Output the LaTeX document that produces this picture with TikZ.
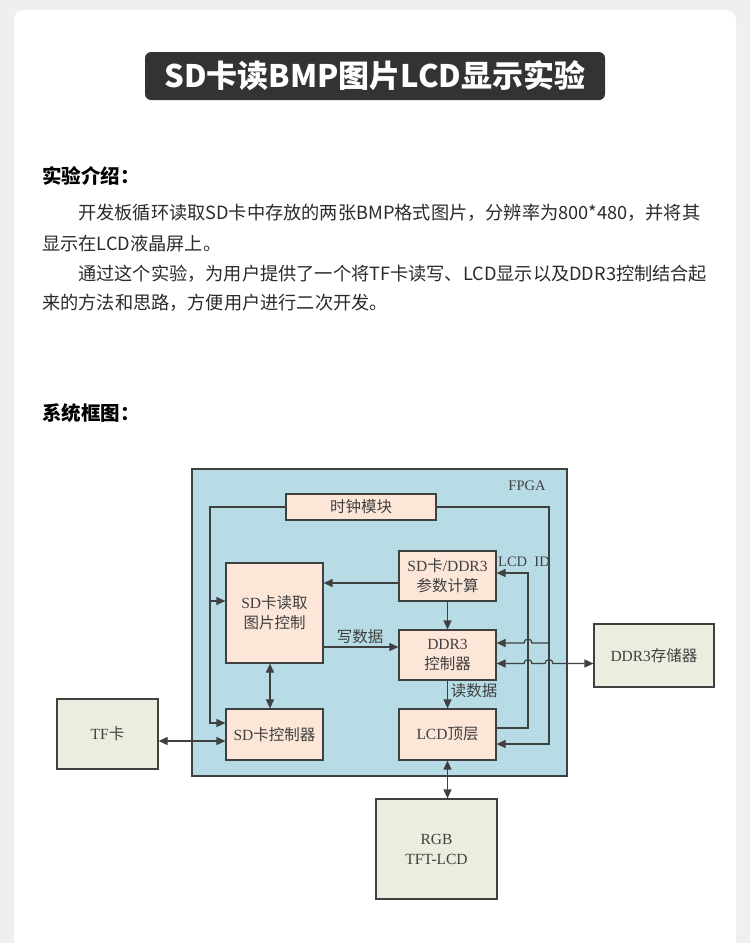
\documentclass[tikz,border=0pt]{standalone}
\usepackage{fontspec}
\setmainfont{Noto Sans CJK SC}
\newfontfamily\lat{Liberation Serif}
\usetikzlibrary{arrows.meta}
\definecolor{bg}{HTML}{EFEFEF}
\definecolor{titlebg}{HTML}{333333}
\definecolor{txt}{HTML}{2B2B2B}
\definecolor{fpgab}{HTML}{B7DCE6}
\definecolor{peach}{HTML}{FCE6D8}
\definecolor{pale}{HTML}{EAEEDF}
\definecolor{edge}{HTML}{404040}
\tikzset{
  blk/.style={draw=edge, line width=1.2pt, fill=peach, inner sep=0pt, align=center, font=\fontsize{15.5}{20}\selectfont, text=edge},
  ext/.style={draw=edge, line width=1.2pt, fill=pale, inner sep=0pt, align=center, font=\fontsize{15.5}{20}\selectfont, text=edge},
  arr/.style={draw=edge, line width=1.2pt, -{Triangle[length=9pt,width=8pt]}},
  darr/.style={draw=edge, line width=1.2pt, {Triangle[length=9pt,width=8pt]}-{Triangle[length=9pt,width=8pt]}},
  lbl/.style={inner sep=0pt, font=\fontsize{15.5}{20}\selectfont, text=edge},
  para/.style={anchor=west, inner sep=0pt, font=\fontsize{18.2}{22}\selectfont, text=txt},
  head/.style={anchor=west, inner sep=0pt, font=\fontsize{19.5}{24}\selectfont\bfseries, text=black}
}
\begin{document}
\begin{tikzpicture}[x=1pt,y=-1pt]
\useasboundingbox (0,0) rectangle (750,943);
\fill[bg] (0,0) rectangle (750,943);
\fill[white, rounded corners=10pt] (14,10) rectangle (736,960);
% title
\node[fill=titlebg, rounded corners=6pt, minimum width=460pt, minimum height=48pt, inner sep=0pt,
      text=white, font=\fontsize{31}{36}\selectfont\bfseries] (title) at (375,76) {SD卡读BMP图片LCD显示实验};
% intro text
\node[head] (h1) at (42,176) {实验介绍：};
\node[para] (p1) at (78,213) {开发板循环读取SD卡中存放的两张BMP格式图片，分辨率为800*480，并将其};
\node[para] (p2) at (42,244) {显示在LCD液晶屏上。};
\node[para] (p3) at (78,274) {通过这个实验，为用户提供了一个将TF卡读写、LCD显示以及DDR3控制结合起};
\node[para] (p4) at (42,303) {来的方法和思路，方便用户进行二次开发。};
\node[head] (h2) at (42,413) {系统框图：};
% diagram
\node[draw=edge, line width=1.2pt, fill=fpgab, minimum width=375pt, minimum height=307pt, inner sep=0pt] (fpga) at (379.5,622.5) {};
\node[lbl, font=\lat\fontsize{14.5}{18}\selectfont] (fpgal) at (527,486) {FPGA};
\node[blk, minimum width=150pt, minimum height=26pt] (clk) at (361,507) {时钟模块};
\node[blk, minimum width=97pt, minimum height=50pt] (calc) at (447.5,576) {{\lat SD}卡{\lat /DDR3}\\参数计算};
\node[blk, minimum width=97pt, minimum height=100pt] (sdread) at (274.5,613) {{\lat SD}卡读取\\图片控制};
\node[blk, minimum width=97pt, minimum height=50pt] (ddr) at (447.5,655) {{\lat DDR3}\\控制器};
\node[blk, minimum width=97pt, minimum height=51pt] (sdctl) at (274.5,734.5) {{\lat SD}卡控制器};
\node[blk, minimum width=97pt, minimum height=51pt] (lcd) at (447.5,734.5) {{\lat LCD}顶层};
\node[ext, minimum width=101pt, minimum height=70pt] (tf) at (107.5,734) {{\lat TF}卡};
\node[ext, minimum width=120pt, minimum height=63pt] (ddrmem) at (654,655.5) {{\lat DDR3}存储器};
\node[ext, minimum width=121pt, minimum height=100pt] (rgb) at (436.5,849) {{\lat RGB}\\{\lat TFT-LCD}};
% coordinates
\coordinate (L) at (210,507);
\coordinate (R) at (549,507);
\coordinate (M) at (528,560);
\coordinate (sdrin) at ([yshift=12pt]sdread.west);
\coordinate (sdcin) at ([yshift=11.5pt]sdctl.west);
\coordinate (lcdin) at ([yshift=-9.5pt]lcd.east);
\coordinate (lcdout) at ([yshift=6.5pt]lcd.east);
\coordinate (ddrin1) at ([yshift=12pt]ddr.east);
\coordinate (ddrin2) at ([yshift=-8.5pt]ddr.east);
\coordinate (calcin) at ([yshift=3pt]calc.east);
\coordinate (calcout) at ([yshift=-7pt]calc.west);
\coordinate (wd) at ([yshift=8pt]ddr.west);
\coordinate (tfc) at ([yshift=-6.5pt]sdctl.west);
% clock left
\draw[arr] (clk.west) -- (L) |- (sdcin);
\draw[arr] (L |- sdrin) -- (sdrin);
% clock right
\draw[arr] (clk.east) -- (R) |- (lcdin);
\draw[arr] (R |- ddrin1) -- ([xshift=4pt]M |- ddrin1) arc[start angle=0, end angle=-180, radius=4] -- (ddrin1);
% LCD ID
\draw[arr] (lcdout) -| (M |- calcin) -- (calcin);
\node[lbl, anchor=west, font=\lat\fontsize{14.5}{18}\selectfont] (lcdid) at (498,562) {LCD\ \ ID};
% DDR memory
\draw[darr] (ddrmem.west |- ddrin2) -- ([xshift=4pt]R |- ddrin2) arc[start angle=0, end angle=-180, radius=4] -- ([xshift=4pt]M |- ddrin2) arc[start angle=0, end angle=-180, radius=4] -- (ddrin2);
% internal
\draw[arr] (calcout) -- (sdread.east |- calcout);
\draw[arr] (calc.south) -- (ddr.north);
\draw[arr] (sdread.east |- wd) -- (wd);
\node[lbl] (wdl) at (360,637) {写数据};
\draw[arr] (ddr.south) -- (lcd.north);
\node[lbl] (rdl) at (474,691) {读数据};
\draw[darr] ([xshift=-4.5pt]sdread.south) -- ([xshift=-4.5pt]sdctl.north);
\draw[darr] (tf.east |- tfc) -- (tfc);
\draw[darr] (lcd.south) -- (lcd.south |- rgb.north);
\end{tikzpicture}
\end{document}
